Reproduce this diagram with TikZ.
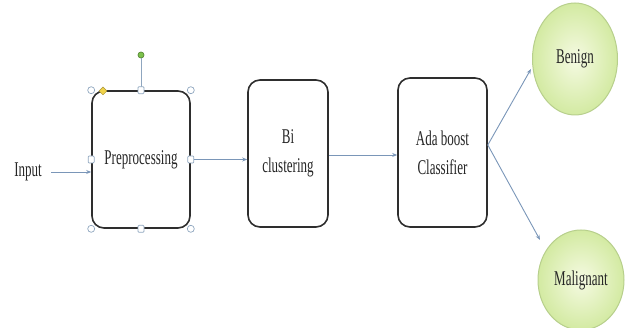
\documentclass[tikz,border=0pt]{standalone}
\usepackage{fontspec}
\setmainfont{Liberation Serif}
\newfontfamily\narrowserif[FakeStretch=0.62]{Liberation Serif}
\usetikzlibrary{arrows.meta,shapes.geometric}
\definecolor{boxgray}{HTML}{2E2E2E}
\definecolor{textgray}{HTML}{262626}
\definecolor{arrowblue}{HTML}{7A96B8}
\definecolor{leafin}{HTML}{F5FAE2}
\definecolor{leafout}{HTML}{D3EAA2}
\definecolor{leafedge}{HTML}{B7CF8C}
\definecolor{handleblue}{HTML}{8FA6BF}
\definecolor{rotgreen}{HTML}{7CC24B}
\definecolor{adjyellow}{HTML}{F0D34A}
\begin{document}
\begin{tikzpicture}[
    x=1pt, y=-1pt,
    label/.style={text=textgray, align=center, font=\narrowserif\fontsize{21}{29}\selectfont},
    box/.style={label, rectangle, rounded corners=12pt, draw=boxgray, line width=1.6pt, fill=white},
    leaf/.style={label, ellipse, draw=leafedge, line width=1pt, inner color=leafin, outer color=leafout},
    flow/.style={draw=arrowblue, line width=0.9pt, -{Stealth[length=5pt,width=4pt]}},
    handle/.style={circle, draw=handleblue, fill=white, line width=0.7pt, inner sep=0pt, minimum size=7pt},
    grip/.style={rectangle, rounded corners=1pt, draw=handleblue, fill=white, line width=0.7pt, inner sep=0pt, minimum width=6pt, minimum height=7pt},
    ]
    \useasboundingbox (0,0) rectangle (633,328);

    %Nodes
    \node[label] at (28,172) (inp) {Input};
    \node[box, minimum width=98pt, minimum height=137pt] at (141,159.5) (pre) {Preprocessing};
    \node[box, minimum width=80pt, minimum height=147pt] at (288,153.5) (bic) {Bi\\clustering};
    \node[box, minimum width=89pt, minimum height=149pt] at (442.5,152.5) (ada) {Ada boost\\Classifier};
    \node[leaf, minimum width=85pt, minimum height=112pt] at (575,59) (ben) {Benign};
    \node[leaf, minimum width=86pt, minimum height=100pt] at (581,280) (mal) {Malignant};
    \coordinate (split) at (ada.east |- 0,145);

    %Lines
    \draw[flow, shorten <=6pt] (inp.east) -- (pre.west |- inp.east);
    \draw[flow] (pre.east) -- (bic.west |- pre.east);
    \draw[flow] (bic.east |- 0,155) -- (ada.west |- 0,155);
    \draw[flow, shorten >=3pt] (split) -- (ben.190);
    \draw[flow, shorten >=12pt] (split) -- (mal.140);

    %selection handles
    \node[handle, fill=rotgreen, draw=rotgreen!70!black, minimum size=6pt] at (141,55) (rot) {};
    \draw[handleblue, line width=0.7pt] (rot) -- (pre.north);
    \node[handle] at (pre.north west) (h1) {};
    \node[handle] at (pre.north east) (h2) {};
    \node[handle] at (pre.south west) (h3) {};
    \node[handle] at (pre.south east) (h4) {};
    \node[grip] at (pre.north) (g1) {};
    \node[grip] at (pre.south) (g2) {};
    \node[grip] at (pre.west) (g3) {};
    \node[grip] at (pre.east) (g4) {};
    \node[diamond, fill=adjyellow, draw=adjyellow!70!black, line width=0.5pt, inner sep=0pt, minimum size=8pt] at (103,91) (adj) {};
\end{tikzpicture}
\end{document}
